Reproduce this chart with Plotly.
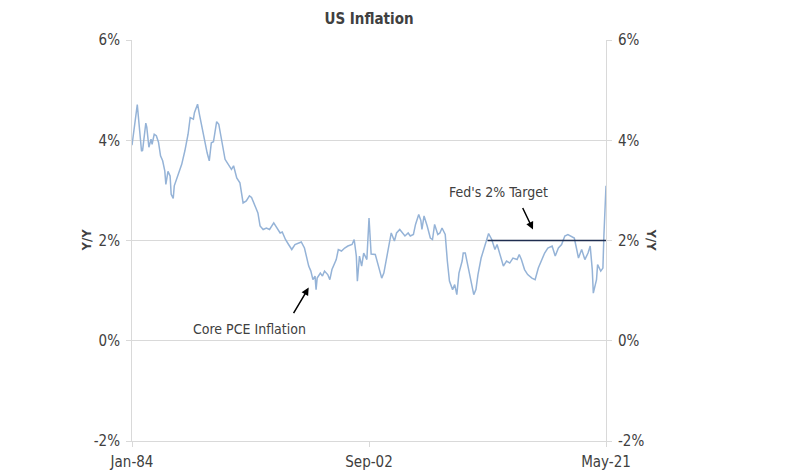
import plotly.graph_objects as go

# Core PCE inflation, Y/Y %
pce_dates = [
    "1984-01", "1984-06", "1984-10", "1984-11", "1985-02", "1985-03", "1985-05", "1985-07",
    "1985-08", "1985-10", "1985-12", "1986-02", "1986-04", "1986-06", "1986-08", "1986-09",
    "1986-11", "1987-01", "1987-02", "1987-04", "1987-05", "1987-08", "1987-12", "1988-03",
    "1988-06", "1988-08", "1988-11", "1988-12", "1989-03", "1989-05", "1989-07", "1989-10",
    "1989-12", "1990-02", "1990-04", "1990-06", "1990-09", "1990-11", "1991-01", "1991-05",
    "1991-08", "1991-11", "1992-01", "1992-04", "1992-07", "1992-10", "1993-01", "1993-04",
    "1993-06", "1993-09", "1993-12", "1994-02", "1994-05", "1994-08", "1994-11", "1995-03",
    "1995-06", "1995-09", "1995-11", "1996-02", "1996-05", "1996-08", "1996-11", "1997-02",
    "1997-05", "1997-08", "1997-10", "1997-12", "1998-02", "1998-04", "1998-06", "1998-07",
    "1998-08", "1998-11", "1999-01", "1999-03", "1999-06", "1999-08", "1999-10", "1999-12",
    "2000-02", "2000-04", "2000-07", "2000-10", "2001-01", "2001-05", "2001-07", "2001-09",
    "2001-10", "2001-12", "2002-02", "2002-04", "2002-07", "2002-09", "2002-11", "2003-03",
    "2003-06", "2003-09", "2003-11", "2004-02", "2004-05", "2004-06", "2004-09", "2004-11",
    "2005-02", "2005-05", "2005-07", "2005-10", "2005-12", "2006-03", "2006-05", "2006-08",
    "2006-10", "2006-11", "2007-01", "2007-04", "2007-07", "2007-09", "2007-11", "2008-02",
    "2008-04", "2008-06", "2008-09", "2008-11", "2009-01", "2009-04", "2009-06", "2009-08",
    "2009-10", "2010-01", "2010-02", "2010-04", "2010-07", "2010-09", "2010-12", "2011-02",
    "2011-04", "2011-07", "2011-10", "2011-12", "2012-02", "2012-05", "2012-08", "2012-10",
    "2013-01", "2013-04", "2013-07", "2013-10", "2014-01", "2014-05", "2014-07", "2014-09",
    "2014-12", "2015-03", "2015-07", "2015-10", "2016-01", "2016-04", "2016-07", "2016-10",
    "2017-02", "2017-05", "2017-08", "2017-11", "2018-02", "2018-05", "2018-08", "2018-11",
    "2019-01", "2019-03", "2019-06", "2019-09", "2019-12", "2020-02", "2020-04", "2020-05",
    "2020-08", "2020-09", "2020-12", "2021-02", "2021-03", "2021-05",
]
pce_vals = [
    3.90, 4.71, 3.78, 3.80, 4.34, 4.26, 3.86, 4.02,
    3.92, 4.12, 4.09, 3.96, 3.69, 3.59, 3.39, 3.12,
    3.38, 3.29, 2.92, 2.84, 3.09, 3.26, 3.52, 3.79,
    4.12, 4.45, 4.42, 4.55, 4.72, 4.49, 4.26, 3.92,
    3.75, 3.59, 3.95, 3.97, 4.37, 4.32, 4.09, 3.62,
    3.52, 3.42, 3.49, 3.25, 3.15, 2.75, 2.79, 2.89,
    2.86, 2.69, 2.55, 2.29, 2.22, 2.25, 2.22, 2.35,
    2.25, 2.15, 2.17, 2.02, 1.92, 1.82, 1.92, 1.95,
    1.97, 1.85, 1.69, 1.49, 1.39, 1.22, 1.29, 1.02,
    1.25, 1.35, 1.29, 1.39, 1.32, 1.22, 1.42, 1.52,
    1.62, 1.82, 1.79, 1.85, 1.89, 1.92, 2.02, 1.69,
    1.19, 1.69, 1.49, 1.75, 1.62, 2.45, 1.73, 1.72,
    1.48, 1.25, 1.35, 1.69, 2.02, 2.15, 1.99, 2.15,
    2.22, 2.15, 2.09, 2.15, 2.09, 2.12, 2.32, 2.52,
    2.40, 2.22, 2.49, 2.29, 2.05, 2.02, 2.32, 2.12,
    2.15, 2.25, 2.12, 1.59, 1.19, 1.02, 1.12, 0.92,
    1.35, 1.59, 1.75, 1.75, 1.45, 1.25, 0.92, 1.02,
    1.32, 1.65, 1.85, 2.02, 2.14, 2.02, 1.82, 1.92,
    1.69, 1.49, 1.59, 1.55, 1.65, 1.62, 1.72, 1.62,
    1.42, 1.32, 1.25, 1.22, 1.45, 1.59, 1.75, 1.85,
    1.89, 1.69, 1.85, 1.92, 2.09, 2.12, 2.09, 2.05,
    1.85, 1.65, 1.82, 1.62, 1.75, 1.89, 1.42, 0.95,
    1.22, 1.52, 1.39, 1.45, 2.09, 3.09,
]

# Fed's 2% target line
target_dates = ["2012-01", "2021-05"]
target_vals = [2.0, 2.0]

x_ticks = ["1984-01-01", "2002-09-01", "2021-05-01"]
x_ticktext = ["Jan-84", "Sep-02", "May-21"]
y_ticks = [-2, 0, 2, 4, 6]
y_ticktext = ["-2%", "0%", "2%", "4%", "6%"]

FONT = "DejaVu Sans Condensed, sans-serif"
TXT = "#404040"
GRID = "#d9d9d9"
LINE_COLOR = "#95b3d7"
TARGET_COLOR = "#1f2d4f"

fig = go.Figure()
fig.add_trace(go.Scatter(x=pce_dates, y=pce_vals, mode="lines", name="Core PCE Inflation",
                         line=dict(color=LINE_COLOR, width=1.5)))
fig.add_trace(go.Scatter(x=target_dates, y=target_vals, mode="lines", name="Fed's 2% Target",
                         line=dict(color=TARGET_COLOR, width=1.6), yaxis="y2"))

yax = dict(range=[-2, 6], tickvals=y_ticks, ticktext=y_ticktext, showgrid=True, gridcolor=GRID,
           showline=True, linecolor=GRID, linewidth=1, ticks="outside", ticklen=5,
           tickcolor=GRID, zeroline=False, automargin=False, ticklabelstandoff=3,
           tickfont=dict(size=15, color=TXT))

# page body adds an 8px offset, so the figure is 8px smaller than the window
fig.update_layout(
    width=802, height=463,
    margin=dict(l=124, r=204, t=32, b=30),
    plot_bgcolor="white", paper_bgcolor="white",
    font=dict(family=FONT, color=TXT),
    showlegend=False,
    title=dict(text="<b>US Inflation</b>", x=0.5, xref="paper", y=0.976, yref="container",
               xanchor="center", yanchor="middle",
               font=dict(size=15, color=TXT)),
    xaxis=dict(type="date", range=["1984-01-01", "2021-05-01"], tickvals=x_ticks,
               ticktext=x_ticktext, showgrid=False, showline=True, linecolor=GRID,
               ticks="outside", ticklen=5, tickcolor=GRID, automargin=False,
               ticklabelstandoff=2, tickfont=dict(size=15, color=TXT)),
    yaxis=dict(**yax, side="left"),
    yaxis2=dict(**yax, side="right", overlaying="y", anchor="x"),
)

fig.add_annotation(text="<b>Y/Y</b>", textangle=-90, x=-0.097, y=0.5, xref="paper", yref="paper",
                   xanchor="center", yanchor="middle", showarrow=False,
                   font=dict(size=13, color=TXT))
fig.add_annotation(text="<b>Y/Y</b>", textangle=90, x=1.097, y=0.5, xref="paper", yref="paper",
                   xanchor="center", yanchor="middle", showarrow=False,
                   font=dict(size=13, color=TXT))

# labels with arrows
fig.add_annotation(text="Core PCE Inflation", x="1993-04-01", y=0.24, showarrow=False,
                   font=dict(size=14, color=TXT))
fig.add_annotation(text="", x="1997-12-01", y=1.06, ax=-16, ay=27, showarrow=True,
                   arrowhead=2, arrowsize=1, arrowwidth=1.5, arrowcolor="black")
fig.add_annotation(text="Fed's 2% Target", x="2012-11-01", y=2.97, showarrow=False,
                   font=dict(size=14, color=TXT))
fig.add_annotation(text="", x="2015-08-01", y=2.22, ax=-11, ay=-23, showarrow=True,
                   arrowhead=2, arrowsize=1, arrowwidth=1.5, arrowcolor="black")

fig.write_html("out.html")
